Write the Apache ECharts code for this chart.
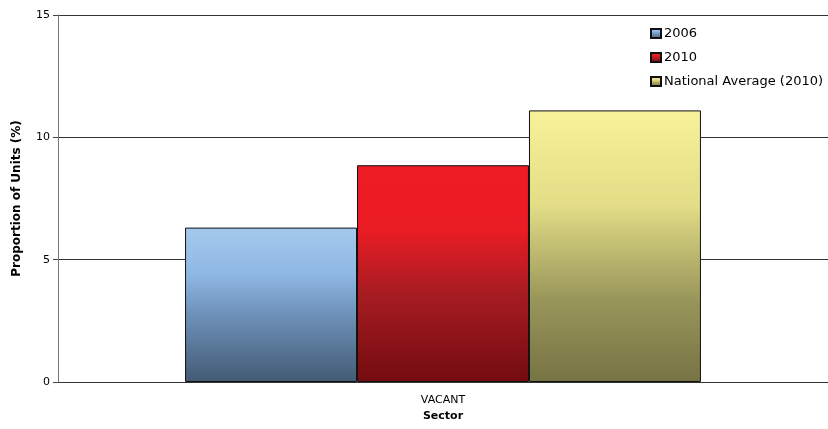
<!DOCTYPE html>
<html>
<head>
<meta charset="utf-8">
<script src="https://cdn.jsdelivr.net/npm/echarts@6/dist/echarts.min.js"></script>
<style>
  html, body { margin: 0; padding: 0; background: #fff; }
  #chart { width: 828px; height: 429px; }
</style>
</head>
<body>
<div id="chart"></div>
<script>
// Vacant units share by period
var categories = ['VACANT'];
var seriesNames = ['2006', '2010', 'National Average (2010)'];
var values2006 = [6.31];
var values2010 = [8.86];
var valuesNational = [11.1];
var yTicks = [0, 5, 10, 15];

function grad(stops) {
  return new echarts.graphic.LinearGradient(0, 0, 0, 1, stops.map(function (s) {
    return { offset: s[0], color: s[1] };
  }));
}

var fills = [
  grad([[0, '#a4c9ec'], [0.3, '#8fb8e4'], [0.55, '#6f93bb'], [1, '#435a74']]),
  grad([[0, '#ee1c25'], [0.3, '#ea1c24'], [0.6, '#a51c22'], [1, '#730c10']]),
  grad([[0, '#f8f29a'], [0.35, '#e2dd86'], [0.7, '#98955a'], [1, '#777344']])
];

var font = 'Verdana, "DejaVu Sans", sans-serif';
var data = [values2006, values2010, valuesNational];

var chart = echarts.init(document.getElementById('chart'), null, { renderer: 'canvas' });
chart.setOption({
  animation: false,
  textStyle: { fontFamily: font },
  grid: { left: 58, right: -3, top: 15, bottom: 47, containLabel: false },
  legend: {
    orient: 'vertical',
    left: 645,
    top: 22,
    itemWidth: 10,
    itemHeight: 9,
    itemGap: 11,
    icon: 'rect',
    textStyle: { fontFamily: font, fontSize: 13, color: '#000', padding: [0, 0, 0, -2] },
    data: seriesNames
  },
  xAxis: {
    type: 'category',
    data: categories,
    name: 'Sector',
    nameLocation: 'middle',
    nameGap: 29,
    nameTextStyle: { fontFamily: font, fontSize: 11, fontWeight: 'bold', color: '#000' },
    axisLine: { show: false },
    axisTick: { show: false },
    axisLabel: { fontFamily: font, fontSize: 11, color: '#000', margin: 13 }
  },
  yAxis: {
    type: 'value',
    min: yTicks[0],
    max: yTicks[yTicks.length - 1],
    interval: 5,
    name: 'Proportion of Units (%)',
    nameLocation: 'middle',
    nameGap: 35,
    nameTextStyle: { fontFamily: font, fontSize: 12, fontWeight: 'bold', color: '#000' },
    axisLine: { show: true, lineStyle: { color: '#777', width: 1 } },
    axisTick: { show: true, length: 5, lineStyle: { color: '#444' } },
    axisLabel: { fontFamily: font, fontSize: 11, color: '#000', margin: 8 },
    splitLine: { show: true, lineStyle: { color: '#333', width: 1 } }
  },
  series: seriesNames.map(function (name, i) {
    return {
      name: name,
      type: 'bar',
      data: data[i],
      barGap: '0%',
      barCategoryGap: '33%',
      itemStyle: { color: fills[i], borderColor: '#111', borderWidth: 1 }
    };
  })
});
</script>
</body>
</html>
